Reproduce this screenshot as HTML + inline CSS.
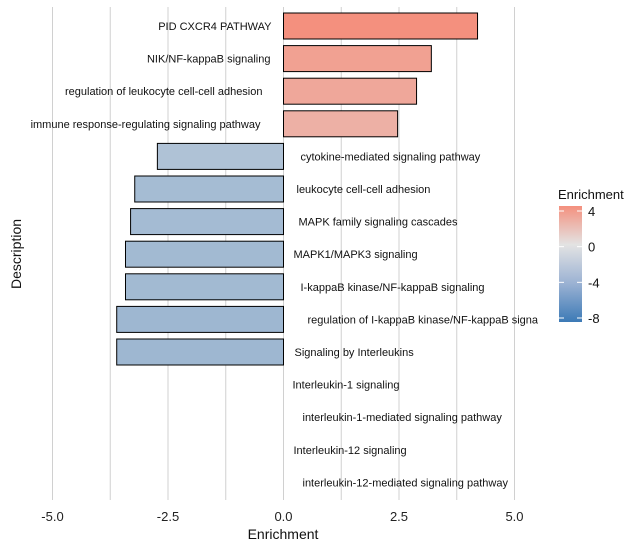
<!DOCTYPE html>
<html><head><meta charset="utf-8"><style>
body{margin:0;background:#fff;}
svg text{font-family:"Liberation Sans",sans-serif;}
</style></head><body>
<svg id="chart" width="640" height="549" xmlns="http://www.w3.org/2000/svg">
<defs>
<linearGradient id="lg" x1="0" y1="1" x2="0" y2="0">
<stop offset="0" stop-color="#3c7ab6"/>
<stop offset="0.333" stop-color="#9bb2d3"/>
<stop offset="0.667" stop-color="#e3e3e3"/>
<stop offset="1" stop-color="#f4907e"/>
</linearGradient>
<clipPath id="pc"><rect x="0" y="0" width="538" height="549"/></clipPath>
</defs>
<g id="grid"></g>
<g id="bars"></g>
<g id="labels" clip-path="url(#pc)"></g>
<g id="xticks"></g>
<text x="283" y="539" text-anchor="middle" font-size="14" fill="#111">Enrichment</text>
<text transform="translate(21,254) rotate(-90)" text-anchor="middle" font-size="14" fill="#111">Description</text>
<g>
<text x="558" y="199" font-size="13" fill="#111">Enrichment</text>
<rect x="559" y="206" width="23" height="116" fill="url(#lg)"/>
<g id="legticks"></g>
</g>
</svg>
<script>
const categories=["PID CXCR4 PATHWAY","NIK/NF-kappaB signaling","regulation of leukocyte cell-cell adhesion","immune response-regulating signaling pathway","cytokine-mediated signaling pathway","leukocyte cell-cell adhesion","MAPK family signaling cascades","MAPK1/MAPK3 signaling","I-kappaB kinase/NF-kappaB signaling","regulation of I-kappaB kinase/NF-kappaB signalin","Signaling by Interleukins","Interleukin-1 signaling","interleukin-1-mediated signaling pathway","Interleukin-12 signaling","interleukin-12-mediated signaling pathway"];
const values=[4.2,3.2,2.88,2.47,-2.73,-3.22,-3.31,-3.42,-3.42,-3.61,-3.61,0,0,0,0];
const labelOffsets=[12,13,21,23,17,13,15,10,17,24,11,9,19,10,19];
const xTicks=[-5,-2.5,0,2.5,5];
const xTickLabels=["-5.0","-2.5","0.0","2.5","5.0"];
const legendTicks=[4,0,-4,-8];
const NS="http://www.w3.org/2000/svg";
const x=v=>283.5+v*46.2;
const y=i=>26+i*32.6;
const ly=v=>211+(4-v)*(107/12);
function mk(tag,attrs,parent){const e=document.createElementNS(NS,tag);for(const k in attrs)e.setAttribute(k,attrs[k]);parent.appendChild(e);return e;}
function col(v){const lo=[74,130,188],mid=[227,227,227],hi=[244,144,126];let t,a,b;
if(v>=0){t=Math.min(v/4,1);a=mid;b=hi;}else{t=Math.min(-v/8,1);a=mid;b=lo;}
return "rgb("+a.map((c,i)=>Math.round(c+(b[i]-c)*t)).join(",")+")";}
const grid=document.getElementById('grid');
for(let g=-5;g<=5.01;g+=1.25){const l=mk('line',{x1:x(g),x2:x(g),y1:7,y2:500,stroke:'#d0d0d0','stroke-width':1},grid);

}
const bars=document.getElementById('bars'),labs=document.getElementById('labels');
categories.forEach((c,i)=>{const v=values[i];
if(v!==0){const r=mk('rect',{x:Math.min(x(0),x(v)),y:y(i)-13,width:Math.abs(x(v)-x(0)),height:26,fill:col(v),stroke:'#000','stroke-width':1},bars);

}
const pos=v>0;
const t=mk('text',{x:pos?x(0)-labelOffsets[i]:x(0)+labelOffsets[i],y:y(i)+4,'font-size':11,fill:'#111','text-anchor':pos?'end':'start'},labs);
t.textContent=c;

});
const xt=document.getElementById('xticks');
xTicks.forEach((v,i)=>{const t=mk('text',{x:x(v),y:521,'text-anchor':'middle','font-size':13,fill:'#222'},xt);
t.textContent=xTickLabels[i];

});
const lt=document.getElementById('legticks');
legendTicks.forEach(v=>{
const a=mk('line',{x1:559,x2:564,y1:ly(v),y2:ly(v),stroke:'#fff','stroke-width':1},lt);


const b=mk('line',{x1:577,x2:582,y1:ly(v),y2:ly(v),stroke:'#fff','stroke-width':1},lt);


const t=mk('text',{x:588,y:ly(v)+5,'font-size':13,fill:'#111'},lt);
t.textContent=String(v);

});
</script>
</body></html>
